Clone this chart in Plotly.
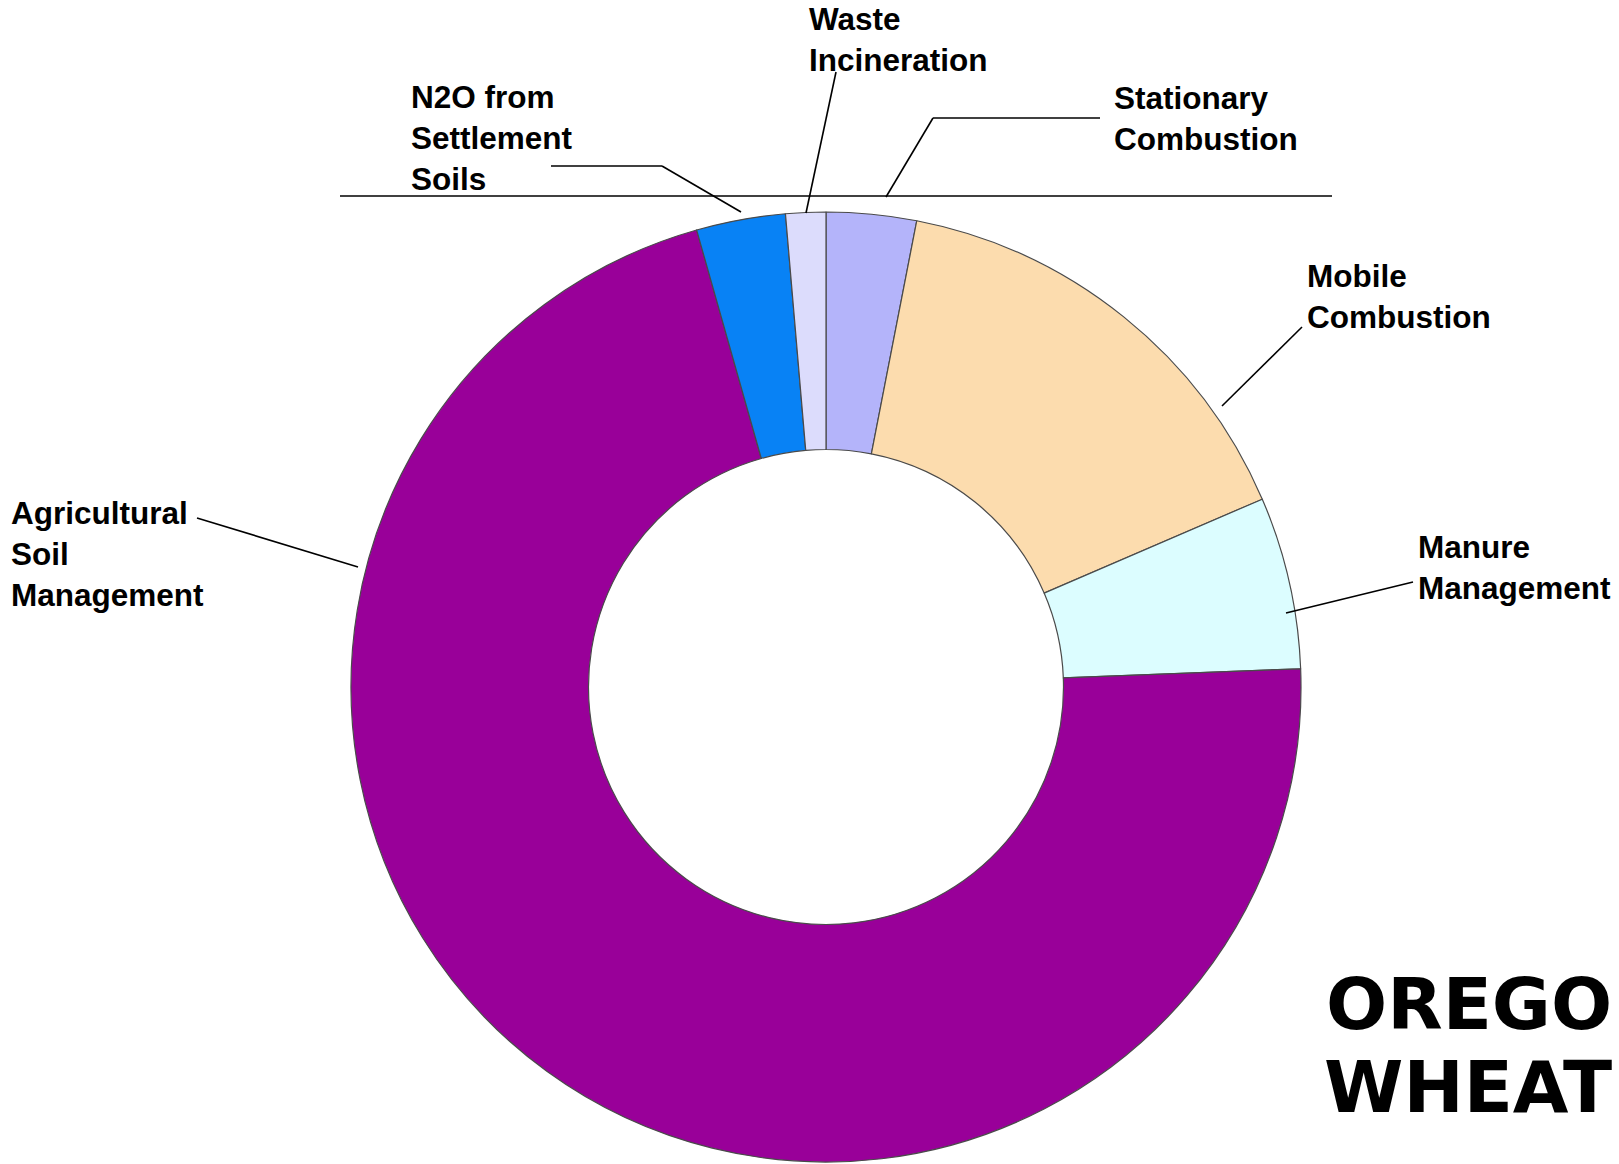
import plotly.graph_objects as go

# Share of N2O emissions by source (percent), listed clockwise from 12 o'clock
categories = [
    "Stationary Combustion",
    "Mobile Combustion",
    "Manure Management",
    "Agricultural Soil Management",
    "N2O from Settlement Soils",
    "Waste Incineration",
]
shares = [3.06, 15.47, 5.86, 71.22, 3.03, 1.36]
colors = ["#B4B4FA", "#FCDCAE", "#DCFDFF", "#990099", "#0882F5", "#DCDCFC"]

# Label text for each slice, as drawn beside the ring
label_text = {
    "Stationary Combustion": "Stationary<br>Combustion",
    "Mobile Combustion": "Mobile<br>Combustion",
    "Manure Management": "Manure<br>Management",
    "Agricultural Soil Management": "Agricultural<br>Soil<br>Management",
    "N2O from Settlement Soils": "N2O from<br>Settlement<br>Soils",
    "Waste Incineration": "Waste<br>Incineration",
}

logo_words = ["OREGO", "WHEAT"]

W, H = 1619, 1164


def px(x, y):
    """Convert page pixel coordinates to paper coordinates."""
    return x / W, 1 - y / H


# Label anchor (left edge, vertical middle) and leader line path, in pixels
label_pos = {
    "Stationary Combustion": (1112, 119),
    "Mobile Combustion": (1305, 296),
    "Manure Management": (1416, 567),
    "Agricultural Soil Management": (9, 554),
    "N2O from Settlement Soils": (409, 138),
    "Waste Incineration": (807, 40),
}
leader_paths = {
    "Stationary Combustion": [(1100, 118), (933, 118), (886, 197)],
    "Mobile Combustion": [(1302, 327), (1222, 406)],
    "Manure Management": [(1413, 582), (1286, 613)],
    "Agricultural Soil Management": [(197, 518), (358, 567)],
    "N2O from Settlement Soils": [(551, 166), (662, 166), (741, 212)],
    "Waste Incineration": [(836, 72), (806, 213)],
}

fig = go.Figure()

# Donut: centre (826, 687), outer radius 475 px
x0, y1 = px(351, 212)
x1, y0 = px(1301, 1162)
fig.add_trace(
    go.Pie(
        labels=categories,
        values=shares,
        hole=0.5,
        sort=False,
        direction="clockwise",
        rotation=0,
        marker=dict(colors=colors, line=dict(color="#4A4A4A", width=1.2)),
        textinfo="none",
        hoverinfo="label+percent",
        showlegend=False,
        domain=dict(x=[x0, x1], y=[y0, y1]),
    )
)

label_font = dict(family="Arial, Liberation Sans, sans-serif", size=31.5,
                  color="#000000", weight="bold")

annotations = []
shapes = []
for cat in categories:
    lx, ly = label_pos[cat]
    ax, ay = px(lx, ly)
    annotations.append(
        dict(
            x=ax, y=ay, xref="paper", yref="paper",
            xanchor="left", yanchor="middle", align="left",
            text=label_text[cat], showarrow=False, font=label_font,
        )
    )
    path = leader_paths[cat]
    for (xa, ya), (xb, yb) in zip(path[:-1], path[1:]):
        pa, pb = px(xa, ya), px(xb, yb)
        shapes.append(
            dict(type="line", xref="paper", yref="paper",
                 x0=pa[0], y0=pa[1], x1=pb[0], y1=pb[1],
                 line=dict(color="#000000", width=1.6))
        )

# Horizontal rule above the ring
ra, rb = px(340, 196), px(1332, 196)
shapes.append(
    dict(type="line", xref="paper", yref="paper",
         x0=ra[0], y0=ra[1], x1=rb[0], y1=rb[1],
         line=dict(color="#000000", width=1.6))
)

# Oregon Wheat wordmark in the lower right corner
logo_font = dict(family="DejaVu Sans, sans-serif", size=72, color="#000000", weight="bold")
for word, cy in zip(logo_words, [1004, 1087]):
    lx, ly = px(1614, cy)
    annotations.append(
        dict(x=lx, y=ly, xref="paper", yref="paper",
             xanchor="right", yanchor="middle",
             text=word, showarrow=False, font=logo_font)
    )

fig.update_layout(
    width=W,
    height=H,
    margin=dict(l=0, r=0, t=0, b=0),
    paper_bgcolor="#FFFFFF",
    plot_bgcolor="#FFFFFF",
    annotations=annotations,
    shapes=shapes,
)

fig.write_html("out.html")
